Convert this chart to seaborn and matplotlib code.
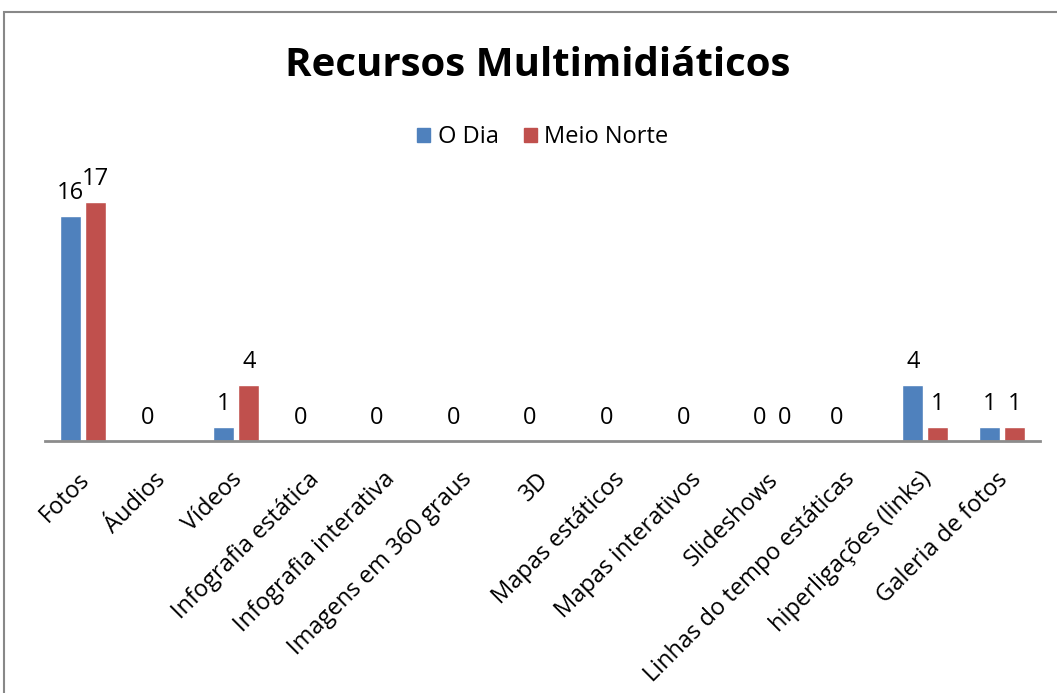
import matplotlib
matplotlib.use("Agg")
import matplotlib.pyplot as plt
import matplotlib.transforms as mtransforms
import numpy as np
import pandas as pd
import seaborn as sns
from matplotlib.patches import Rectangle

# ---- data ----
categories = [
    "Fotos", "Áudios", "Vídeos", "Infografia estática", "Infografia interativa",
    "Imagens em 360 graus", "3D", "Mapas estáticos", "Mapas interativos",
    "Slideshows", "Linhas do tempo estáticas", "hiperligações (links)",
    "Galeria de fotos",
]
o_dia = [16, 0, 1, 0, 0, 0, 0, 0, 0, 0, 0, 4, 1]
meio_norte = [17, np.nan, 4, np.nan, np.nan, np.nan, np.nan, np.nan, np.nan,
              0, np.nan, 1, 1]
series = ["O Dia", "Meio Norte"]
colors = ["#4F81BD", "#C0504D"]

df = pd.DataFrame({
    "categoria": categories * 2,
    "serie": [series[0]] * len(categories) + [series[1]] * len(categories),
    "valor": o_dia + meio_norte,
})

sns.set_style("white")
plt.rcParams["font.family"] = ["Open Sans", "DejaVu Sans"]
plt.rcParams["text.color"] = "black"
plt.rcParams["xtick.color"] = "black"

fig = plt.figure(figsize=(10.57, 6.93), dpi=100)
ax = fig.add_axes([45 / 1057, 1 - 441 / 693, 995 / 1057, 253 / 693])

sns.barplot(data=df, x="categoria", y="valor", hue="serie", order=categories,
            hue_order=series, palette=colors, width=0.65, saturation=1,
            legend=False, ax=ax)

# narrow bars a little to leave the small gap between the pair
for p in ax.patches:
    cx = p.get_x() + p.get_width() / 2
    p.set_width(0.275)
    p.set_x(cx - 0.1375)

# data labels
for cont in ax.containers:
    vals = cont.datavalues
    for bar, v in zip(cont, vals):
        if np.isnan(v):
            continue
        ax.annotate(f"{int(v)}", (bar.get_x() + bar.get_width() / 2, v),
                    xytext=(0, 8), textcoords="offset points",
                    ha="center", va="bottom", fontsize=17)

ax.set_ylim(0, 18)
ax.set_xlim(-0.5, len(categories) - 0.5)
ax.set_xlabel("")
ax.set_ylabel("")
ax.set_yticks([])
for s in ["left", "right", "top"]:
    ax.spines[s].set_visible(False)
ax.spines["bottom"].set_color("#8C8C8C")
ax.spines["bottom"].set_linewidth(2)
ax.tick_params(axis="x", length=0, pad=14)
ax.set_xticks(range(len(categories)))
ax.set_xticklabels(categories, rotation=45, ha="right",
                   rotation_mode="anchor", fontsize=17)
shift = mtransforms.ScaledTranslation(-0.06, -0.07, fig.dpi_scale_trans)
for lbl in ax.get_xticklabels():
    lbl.set_transform(lbl.get_transform() + shift)

# title and legend
fig.text(538 / 1057, 1 - 66 / 693, "Recursos Multimidiáticos",
         ha="center", va="center", fontsize=29, fontweight="bold")
handles = [Rectangle((0, 0), 1, 1, color=c) for c in colors]
fig.legend(handles, series, loc="center", ncol=2,
           bbox_to_anchor=(543 / 1057, 1 - 137 / 693), frameon=False,
           fontsize=17, handlelength=0.55, handleheight=0.55,
           handletextpad=0.33, columnspacing=1.05)

# chart frame
fig.patches.append(Rectangle((4 / 1057, -0.1), 1.2, 1 - 12 / 693 + 0.1,
                             transform=fig.transFigure, fill=False,
                             edgecolor="#888888", linewidth=1.5))

fig.savefig("out.png", dpi=100)
